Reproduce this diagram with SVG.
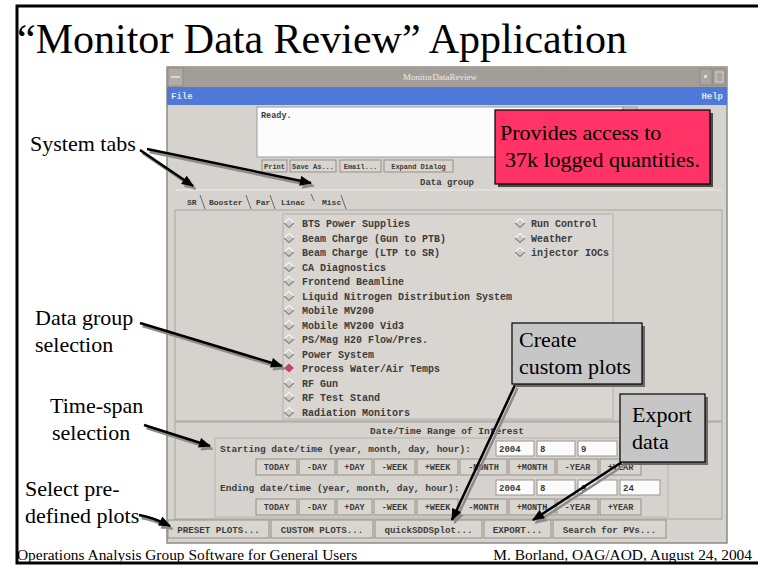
<svg xmlns="http://www.w3.org/2000/svg" width="761" height="566" viewBox="0 0 761 566">
  <style>
    .serif { font-family: "Liberation Serif", "Times New Roman", serif; fill: #000; }
    .mono { font-family: "Liberation Mono", "Courier New", monospace; fill: #3c3c3c; font-weight: bold; }
    .win { fill: #d6d3ce; }
    .panel { fill: #d6d3ce; stroke: #a8a49e; stroke-width: 1; }
    .btn { fill: #d9d6d0; stroke: #948f88; stroke-width: 1; }
    .field { fill: #fbfbfb; stroke: #9a968f; stroke-width: 1; }
    .conn { stroke: #000; stroke-width: 2.5; fill: none; }
    .shadow { stroke: #8c8c8c; stroke-width: 2.5; fill: none; }
  </style>
  <defs>
    <marker id="ah" viewBox="0 0 12 10" refX="11" refY="5" markerWidth="13" markerHeight="10" markerUnits="userSpaceOnUse" orient="auto">
      <path d="M0,0 L12,5 L0,10 Z" fill="#000"/>
    </marker>
    <marker id="ahs" viewBox="0 0 12 10" refX="11" refY="5" markerWidth="13" markerHeight="10" markerUnits="userSpaceOnUse" orient="auto">
      <path d="M0,0 L12,5 L0,10 Z" fill="#8c8c8c"/>
    </marker>
    <!-- Tk style diamond radio button -->
    <g id="radio">
      <polygon points="-5,0 0,-4.5 5,0 0,4.5" fill="#cfcbc5"/>
      <path d="M-5,0 L0,-4.5 L5,0" stroke="#f6f6f6" stroke-width="1.2" fill="none"/>
      <path d="M-5,0 L0,4.5 L5,0" stroke="#8a8680" stroke-width="1.2" fill="none"/>
    </g>
  </defs>

  <rect width="761" height="566" fill="#fff"/>

  <!-- slide frame -->
  <path d="M758,6 H17 V563 H758" fill="none" stroke="#000" stroke-width="3"/>

  <g id="title">
    <text class="serif" x="17" y="53" font-size="42">“Monitor Data Review” Application</text>
  </g>

  <!-- application window screenshot -->
  <g id="window">
    <rect x="167" y="67" width="560" height="476" class="win" stroke="#8e8a84" stroke-width="1.5"/>
    <!-- title bar -->
    <rect x="167" y="67" width="560" height="20" fill="#a29e97"/>
    <rect x="168" y="68" width="15" height="18" fill="#b0aca5" stroke="#8a867f" stroke-width="0.8"/>
    <line x1="171" y1="77" x2="180" y2="77" stroke="#e4e4e4" stroke-width="1.5"/>
    <rect x="700" y="69" width="12" height="16" fill="#aaa69f" stroke="#8a867f" stroke-width="0.8"/>
    <rect x="713" y="69" width="12" height="16" fill="#aaa69f" stroke="#8a867f" stroke-width="0.8"/>
    <rect x="704" y="75" width="3" height="3" fill="#ddd"/>
    <rect x="716" y="72" width="7" height="10" fill="none" stroke="#ddd" stroke-width="0.8"/>
    <text x="440" y="80" font-size="9" text-anchor="middle" font-family="Liberation Serif, serif" fill="#ecebe8">MonitorDataReview</text>
    <!-- menu bar -->
    <rect x="167" y="87" width="560" height="18" fill="#4f79d9"/>
    <text x="171" y="99" font-size="9" font-family="Liberation Mono, monospace" font-weight="bold" fill="#dfe4ee">File</text>
    <text x="723" y="99" font-size="9" font-family="Liberation Mono, monospace" font-weight="bold" fill="#dfe4ee" text-anchor="end">Help</text>
    <!-- status text area -->
    <rect x="257" y="107" width="366" height="50" fill="#fcfcfc" stroke="#a09c96" stroke-width="1"/>
    <rect x="623" y="107" width="14" height="50" fill="#c9c5bf" stroke="#a09c96" stroke-width="1"/>
    <text class="mono" x="261" y="118" font-size="8.5" font-weight="normal">Ready.</text>
    <!-- dialog buttons -->
    <rect class="btn" x="262" y="160" width="25" height="12"/>
    <rect class="btn" x="290" y="160" width="46" height="12"/>
    <rect class="btn" x="340" y="160" width="41" height="12"/>
    <rect class="btn" x="384" y="160" width="69" height="12"/>
    <g class="mono" font-size="7" text-anchor="middle">
      <text x="274.5" y="169">Print</text>
      <text x="313" y="169">Save As...</text>
      <text x="360.5" y="169">Email...</text>
      <text x="418.5" y="169">Expand Dialog</text>
    </g>
    <text class="mono" x="447" y="185" font-size="9" text-anchor="middle" font-weight="normal">Data group</text>
    <!-- system tabs -->
    <line x1="175" y1="190" x2="722" y2="190" stroke="#eeece8" stroke-width="1"/>
    <g class="mono" font-size="8">
      <text x="187" y="205">SR</text>
      <text x="209" y="205">Booster</text>
      <text x="256" y="205">Par</text>
      <text x="281" y="205">Linac</text>
      <text x="322" y="205">Misc</text>
    </g>
    <g stroke="#6c6862" stroke-width="1">
      <line x1="200" y1="195" x2="205" y2="209"/>
      <line x1="246" y1="195" x2="251" y2="209"/>
      <line x1="270" y1="195" x2="275" y2="209"/>
      <line x1="311" y1="194" x2="314" y2="201"/>
      <line x1="341" y1="195" x2="346" y2="209"/>
    </g>
    <!-- data group panel -->
    <rect class="panel" x="175" y="210" width="547" height="211"/>
    <rect x="283" y="214" width="330" height="205" fill="#d9d6d1" stroke="#b4b0aa" stroke-width="1"/>
    <g class="mono" font-size="10">
      <text x="302" y="227">BTS Power Supplies</text>
      <text x="302" y="242">Beam Charge (Gun to PTB)</text>
      <text x="302" y="256">Beam Charge (LTP to SR)</text>
      <text x="302" y="271">CA Diagnostics</text>
      <text x="302" y="285">Frontend Beamline</text>
      <text x="302" y="300">Liquid Nitrogen Distribution System</text>
      <text x="302" y="314">Mobile MV200</text>
      <text x="302" y="329">Mobile MV200 Vid3</text>
      <text x="302" y="343">PS/Mag H20 Flow/Pres.</text>
      <text x="302" y="358">Power System</text>
      <text x="302" y="372">Process Water/Air Temps</text>
      <text x="302" y="387">RF Gun</text>
      <text x="302" y="401">RF Test Stand</text>
      <text x="302" y="416">Radiation Monitors</text>
      <text x="531" y="227">Run Control</text>
      <text x="531" y="242">Weather</text>
      <text x="531" y="256">injector IOCs</text>
    </g>
    <use href="#radio" x="289" y="223"/>
    <use href="#radio" x="289" y="238"/>
    <use href="#radio" x="289" y="252"/>
    <use href="#radio" x="289" y="267"/>
    <use href="#radio" x="289" y="281"/>
    <use href="#radio" x="289" y="296"/>
    <use href="#radio" x="289" y="310"/>
    <use href="#radio" x="289" y="325"/>
    <use href="#radio" x="289" y="339"/>
    <use href="#radio" x="289" y="354"/>
    <polygon points="284,368 289,363.5 294,368 289,372.5" fill="#c4456a"/>
    <use href="#radio" x="289" y="383"/>
    <use href="#radio" x="289" y="397"/>
    <use href="#radio" x="289" y="412"/>
    <use href="#radio" x="520" y="223"/>
    <use href="#radio" x="520" y="238"/>
    <use href="#radio" x="520" y="252"/>
    <!-- date/time panel -->
    <rect class="panel" x="175" y="422" width="547" height="97"/>
    <text class="mono" x="447" y="434" font-size="9.5" text-anchor="middle" font-weight="normal">Date/Time Range of Interest</text>
    <rect x="215" y="438" width="453" height="79" fill="none" stroke="#b8b4ae" stroke-width="1"/>
    <text class="mono" x="220" y="452" font-size="9.5" font-weight="normal">Starting date/time (year, month, day, hour):</text>
    <rect class="field" x="496" y="441" width="38" height="15"/>
    <rect class="field" x="537" y="441" width="38" height="15"/>
    <rect class="field" x="578" y="441" width="39" height="15"/>
    <rect class="field" x="620" y="441" width="40" height="15"/>
    <g class="mono" font-size="9" font-weight="normal">
      <text x="499" y="452">2004</text>
      <text x="540" y="452">8</text>
      <text x="581" y="452">9</text>
    </g>
    <text class="mono" x="220" y="491" font-size="9.5" font-weight="normal">Ending date/time (year, month, day, hour):</text>
    <rect class="field" x="496" y="480" width="38" height="15"/>
    <rect class="field" x="537" y="480" width="38" height="15"/>
    <rect class="field" x="578" y="480" width="39" height="15"/>
    <rect class="field" x="620" y="480" width="40" height="15"/>
    <g class="mono" font-size="9" font-weight="normal">
      <text x="499" y="491">2004</text>
      <text x="540" y="491">8</text>
      <text x="581" y="491">9</text>
      <text x="623" y="491">24</text>
    </g>
    <!-- step buttons, two rows -->
    <g id="steprow1">
      <rect class="btn" x="256" y="459" width="41" height="16"/>
      <rect class="btn" x="299" y="459" width="36" height="16"/>
      <rect class="btn" x="337" y="459" width="35" height="16"/>
      <rect class="btn" x="374" y="459" width="41" height="16"/>
      <rect class="btn" x="417" y="459" width="41" height="16"/>
      <rect class="btn" x="460" y="459" width="47" height="16"/>
      <rect class="btn" x="509" y="459" width="46" height="16"/>
      <rect class="btn" x="557" y="459" width="41" height="16"/>
      <rect class="btn" x="600" y="459" width="41" height="16"/>
      <g class="mono" font-size="8.5" text-anchor="middle">
        <text x="276.5" y="470">TODAY</text>
        <text x="317" y="470">-DAY</text>
        <text x="354.5" y="470">+DAY</text>
        <text x="394.5" y="470">-WEEK</text>
        <text x="437.5" y="470">+WEEK</text>
        <text x="483.5" y="470">-MONTH</text>
        <text x="532" y="470">+MONTH</text>
        <text x="577.5" y="470">-YEAR</text>
        <text x="620.5" y="470">+YEAR</text>
      </g>
    </g>
    <g id="steprow2">
      <rect class="btn" x="256" y="499" width="41" height="16"/>
      <rect class="btn" x="299" y="499" width="36" height="16"/>
      <rect class="btn" x="337" y="499" width="35" height="16"/>
      <rect class="btn" x="374" y="499" width="41" height="16"/>
      <rect class="btn" x="417" y="499" width="41" height="16"/>
      <rect class="btn" x="460" y="499" width="47" height="16"/>
      <rect class="btn" x="509" y="499" width="46" height="16"/>
      <rect class="btn" x="557" y="499" width="41" height="16"/>
      <rect class="btn" x="600" y="499" width="41" height="16"/>
      <g class="mono" font-size="8.5" text-anchor="middle">
        <text x="276.5" y="510">TODAY</text>
        <text x="317" y="510">-DAY</text>
        <text x="354.5" y="510">+DAY</text>
        <text x="394.5" y="510">-WEEK</text>
        <text x="437.5" y="510">+WEEK</text>
        <text x="483.5" y="510">-MONTH</text>
        <text x="532" y="510">+MONTH</text>
        <text x="577.5" y="510">-YEAR</text>
        <text x="620.5" y="510">+YEAR</text>
      </g>
    </g>
    <!-- action buttons -->
    <rect class="btn" x="168" y="520" width="101" height="18"/>
    <rect class="btn" x="271" y="520" width="102" height="18"/>
    <rect class="btn" x="375" y="520" width="107" height="18"/>
    <rect class="btn" x="484" y="520" width="67" height="18"/>
    <rect class="btn" x="553" y="520" width="113" height="18"/>
    <g class="mono" font-size="9.2" text-anchor="middle">
      <text x="218.5" y="532.5">PRESET PLOTS...</text>
      <text x="322" y="532.5">CUSTOM PLOTS...</text>
      <text x="428.5" y="532.5">quickSDDSplot...</text>
      <text x="517.5" y="532.5">EXPORT...</text>
      <text x="609.5" y="532.5">Search for PVs...</text>
    </g>
  </g>

  <!-- callout labels -->
  <g id="label-system-tabs">
    <text class="serif" x="30" y="151" font-size="22">System tabs</text>
  </g>
  <g id="label-data-group">
    <text class="serif" x="35" y="325" font-size="22">Data group</text>
    <text class="serif" x="35" y="352" font-size="22">selection</text>
  </g>
  <g id="label-time-span">
    <text class="serif" x="50" y="413" font-size="22">Time-span</text>
    <text class="serif" x="52" y="440" font-size="22">selection</text>
  </g>
  <g id="label-preset">
    <text class="serif" x="25" y="496" font-size="22">Select pre-</text>
    <text class="serif" x="25" y="523" font-size="22">defined plots</text>
  </g>

  <!-- connectors: grey drop shadow first, black line on top -->
  <g id="connectors">
    <g transform="translate(2.5,3)">
      <line class="shadow" x1="140" y1="150" x2="193" y2="186" marker-end="url(#ahs)"/>
      <line class="shadow" x1="147" y1="149" x2="311" y2="183" marker-end="url(#ahs)"/>
      <line class="shadow" x1="140" y1="323" x2="282" y2="366" marker-end="url(#ahs)"/>
      <line class="shadow" x1="144" y1="425" x2="210" y2="446" marker-end="url(#ahs)"/>
      <path class="shadow" d="M139,515 Q152,517 170,526" marker-end="url(#ahs)"/>
      <line class="shadow" x1="515" y1="385" x2="452" y2="520" marker-end="url(#ahs)"/>
      <line class="shadow" x1="622" y1="462" x2="533" y2="520" marker-end="url(#ahs)"/>
    </g>
    <line class="conn" x1="140" y1="150" x2="193" y2="186" marker-end="url(#ah)"/>
    <line class="conn" x1="147" y1="149" x2="311" y2="183" marker-end="url(#ah)"/>
    <line class="conn" x1="140" y1="323" x2="282" y2="366" marker-end="url(#ah)"/>
    <line class="conn" x1="144" y1="425" x2="210" y2="446" marker-end="url(#ah)"/>
    <path class="conn" d="M139,515 Q152,517 170,526" marker-end="url(#ah)"/>
    <line class="conn" x1="515" y1="385" x2="452" y2="520" marker-end="url(#ah)"/>
    <line class="conn" x1="622" y1="462" x2="533" y2="520" marker-end="url(#ah)"/>
  </g>

  <!-- boxed callouts -->
  <g id="callout-access">
    <rect x="498" y="113" width="215" height="74" fill="#4a4a4a"/>
    <rect x="495" y="110" width="215" height="74" fill="#ff3366" stroke="#000" stroke-width="1.2"/>
    <text class="serif" x="500" y="140" font-size="22">Provides access to</text>
    <text class="serif" x="505" y="167" font-size="22">37k logged quantities.</text>
  </g>
  <g id="callout-custom">
    <rect x="515" y="326" width="130" height="61" fill="#6a6a6a"/>
    <rect x="512" y="323" width="130" height="61" fill="#c6c6c6" stroke="#000" stroke-width="1.2"/>
    <text class="serif" x="519" y="347" font-size="22">Create</text>
    <text class="serif" x="519" y="374" font-size="22">custom plots</text>
  </g>
  <g id="callout-export">
    <rect x="623" y="397" width="85" height="68" fill="#6a6a6a"/>
    <rect x="620" y="394" width="85" height="68" fill="#c6c6c6" stroke="#000" stroke-width="1.2"/>
    <text class="serif" x="632" y="422" font-size="22">Export</text>
    <text class="serif" x="632" y="449" font-size="22">data</text>
  </g>

  <g id="footer">
    <text class="serif" x="17" y="560" font-size="15.4">Operations Analysis Group Software for General Users</text>
    <text class="serif" x="752" y="560" font-size="15.4" text-anchor="end">M. Borland, OAG/AOD, August 24, 2004</text>
  </g>
</svg>
